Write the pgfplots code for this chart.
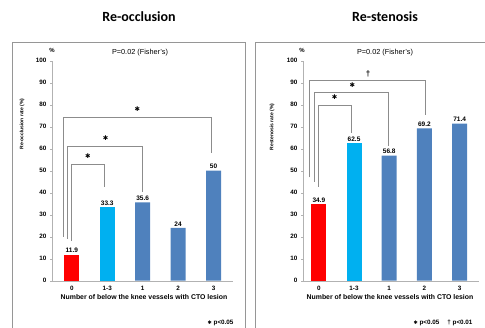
\documentclass[border=0pt]{standalone}
\usepackage{pgfplots}
\pgfplotsset{compat=1.18}
\usepackage{fontspec}
\setmainfont{Liberation Sans}
\newfontfamily\titlefont{Carlito}
\newfontfamily\symfont{DejaVu Sans}
\definecolor{cred}{RGB}{255,0,0}
\definecolor{clight}{RGB}{0,176,240}
\definecolor{cblue}{RGB}{79,129,189}
\definecolor{cframe}{RGB}{150,150,150}
\definecolor{cbr}{RGB}{140,140,140}
\newcommand{\st}{{\symfont\fontsize{6.5}{7}\selectfont ✱}}
\pgfplotsset{panel/.style={
  scale only axis, anchor=south west,
  height=220pt, ymin=0, ymax=100, ytick={0,10,...,100},
  xmin=-0.56, xmax=4.55,
  axis x line=bottom, axis y line=left, axis line style={draw=gray!60, -},
  xtick={0,...,4}, xticklabels={0,1-3,1,2,3},
  ybar, bar width=15pt,
  /pgf/number format/assume math mode=true,
  tick label style={font=\fontsize{6.3}{7}\selectfont\bfseries},
  x tick style={draw=none}, y tick style={draw=gray!60}, tick align=outside, major tick length=2pt,
  nodes near coords, every node near coord/.append style={font=\fontsize{6.5}{7}\selectfont\bfseries, inner sep=1.5pt},
  clip=false,
}}
\begin{document}
\begin{tikzpicture}
\path[use as bounding box] (0pt,0pt) rectangle (485pt,327pt);
\clip (0pt,0pt) rectangle (485pt,327pt);
% frames
\draw[cframe, line width=0.8pt] (12pt,285pt) rectangle (245pt,-10pt);
\draw[cframe, line width=0.8pt] (255pt,285pt) rectangle (495pt,-10pt);
% titles
\node[font=\titlefont\fontsize{14}{15}\selectfont\bfseries] at (139pt,310pt) {Re-occlusion};
\node[font=\titlefont\fontsize{14}{15}\selectfont\bfseries] at (385pt,310pt) {Re-stenosis};

% left panel
\begin{axis}[panel, at={(52pt,46.3pt)}, width=181pt]
\addplot[fill=cred, draw=none, bar shift=0pt] coordinates {(0,11.9)};
\addplot[fill=clight, draw=none, bar shift=0pt] coordinates {(1,33.3)};
\addplot[fill=cblue, draw=none, bar shift=0pt] coordinates {(2,35.6) (3,24) (4,50)};
\draw[cbr, line width=0.8pt] (axis cs:0,18) |- (axis cs:0.93,53) -- (axis cs:0.93,42.5);
\draw[cbr, line width=0.8pt] (axis cs:-0.12,19) |- (axis cs:1.99,61.2) -- (axis cs:1.99,40.5);
\draw[cbr, line width=0.8pt] (axis cs:-0.24,20) |- (axis cs:3.95,74.3) -- (axis cs:3.95,58);
\node at (axis cs:0.45,56.8) {\st};
\node at (axis cs:0.95,65) {\st};
\node at (axis cs:1.85,78) {\st};
\end{axis}

% right panel
\begin{axis}[panel, at={(303pt,46.3pt)}, width=176pt, xmin=-0.45, xmax=4.55]
\addplot[fill=cred, draw=none, bar shift=0pt] coordinates {(0,34.9)};
\addplot[fill=clight, draw=none, bar shift=0pt] coordinates {(1,62.5)};
\addplot[fill=cblue, draw=none, bar shift=0pt] coordinates {(2,56.8) (3,69.2) (4,71.4)};
\draw[cbr, line width=0.8pt] (axis cs:0,42.7) |- (axis cs:0.92,79.9) -- (axis cs:0.92,67);
\draw[cbr, line width=0.8pt] (axis cs:-0.13,45) |- (axis cs:1.99,85.5) -- (axis cs:1.99,61.2);
\draw[cbr, line width=0.8pt] (axis cs:-0.26,47) |- (axis cs:3.03,91.2) -- (axis cs:3.03,75.3);
\node at (axis cs:0.45,83.3) {\st};
\node at (axis cs:0.95,88.8) {\st};
\node[font=\fontsize{8}{8}\selectfont\bfseries] at (axis cs:1.4,94) {†};
\end{axis}

% texts
\node[font=\fontsize{7.3}{8}\selectfont] at (140pt,274pt) {P=0.02 (Fisher's)};
\node[font=\fontsize{7.3}{8}\selectfont] at (385pt,274pt) {P=0.02 (Fisher's)};
\node[font=\fontsize{6}{6}\selectfont\bfseries] at (52pt,277pt) {\%};
\node[font=\fontsize{6}{6}\selectfont\bfseries] at (302pt,277pt) {\%};
\node[rotate=90, font=\fontsize{5}{5}\selectfont\bfseries] at (22pt,203pt) {Re-occlusion rate (\%)};
\node[rotate=90, font=\fontsize{5}{5}\selectfont\bfseries] at (272pt,200pt) {Restenosis rate (\%)};
\node[font=\fontsize{6.9}{7}\selectfont\bfseries] at (144pt,30pt) {Number of below the knee vessels with CTO lesion};
\node[font=\fontsize{6.9}{7}\selectfont\bfseries] at (390pt,30pt) {Number of below the knee vessels with CTO lesion};
\node[anchor=east, font=\fontsize{6.3}{7}\selectfont\bfseries] at (237pt,4pt) {{\symfont\fontsize{5}{5}\selectfont ✱} p<0.05};
\node[anchor=east, font=\fontsize{6.3}{7}\selectfont\bfseries] at (476pt,4pt) {{\symfont\fontsize{5}{5}\selectfont ✱} p<0.05 \quad † p<0.01};
\end{tikzpicture}
\end{document}
